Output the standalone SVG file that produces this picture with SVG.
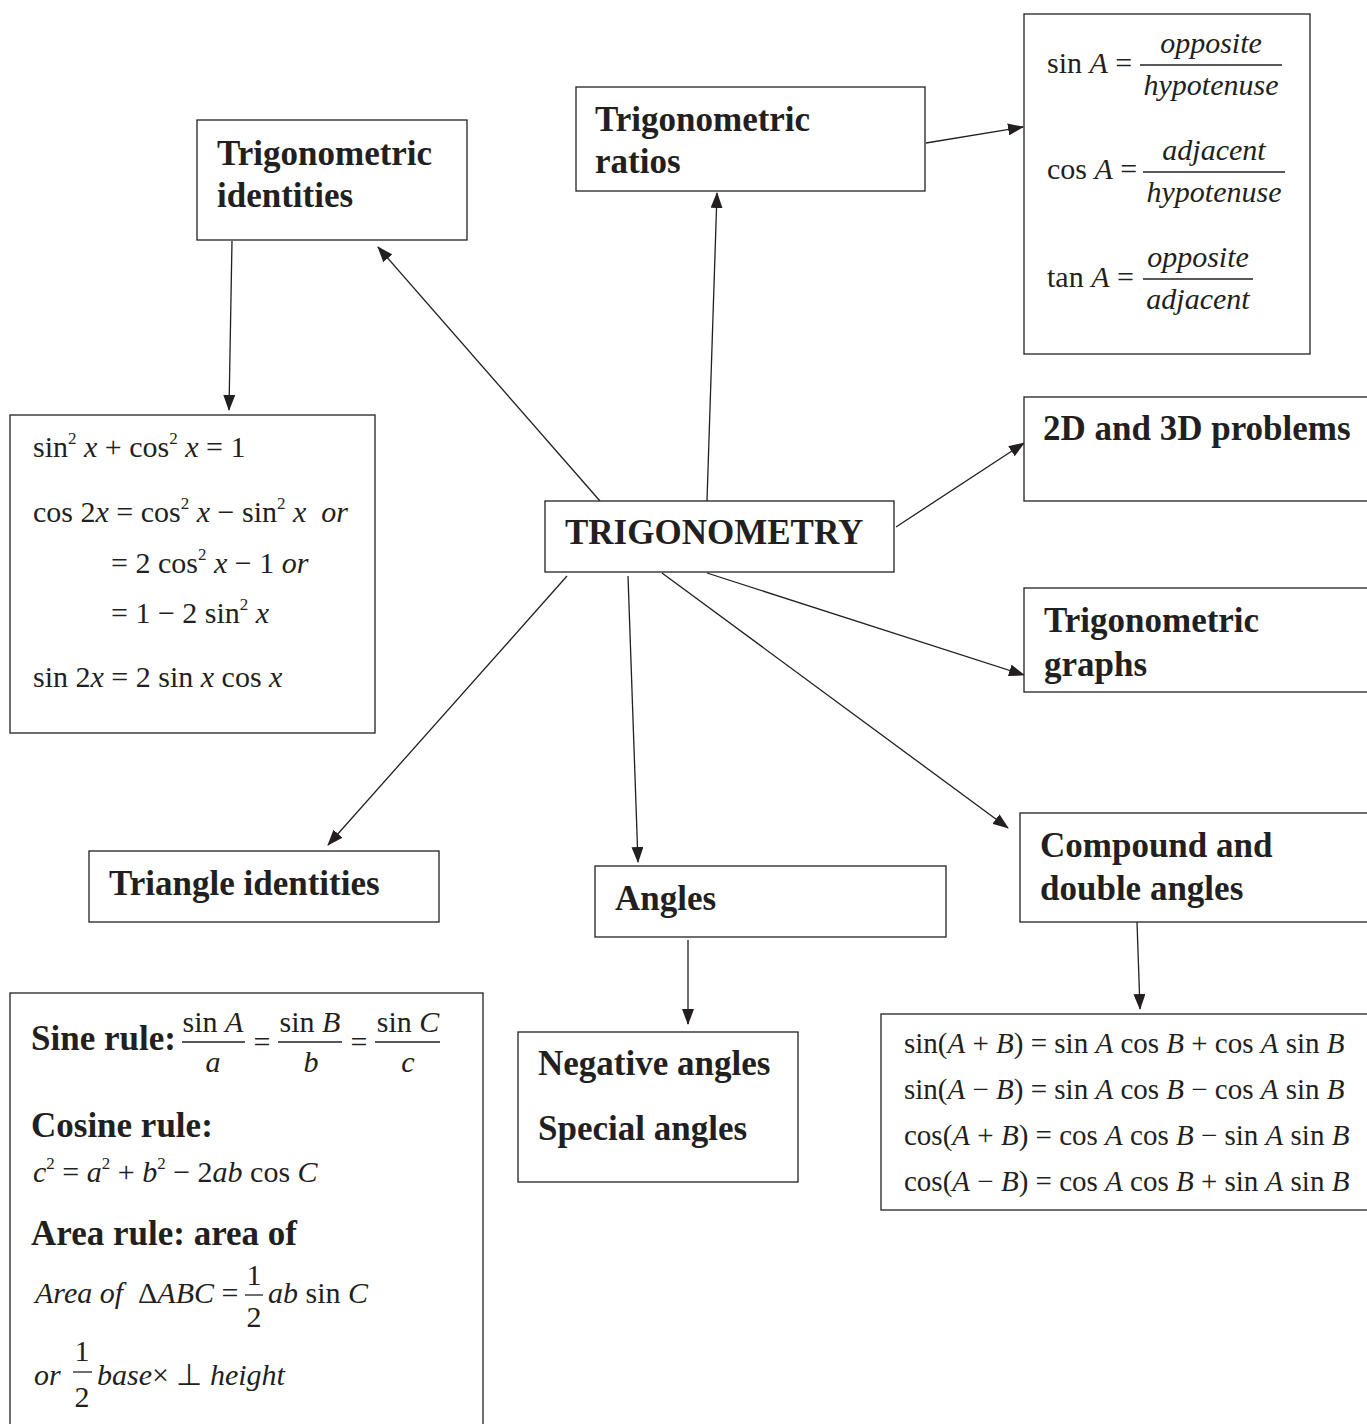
<svg xmlns="http://www.w3.org/2000/svg" width="1367" height="1424" viewBox="0 0 1367 1424">
<style>
.box{fill:#fff;stroke:#231f20;stroke-width:1.3}
.h{font-family:"Liberation Serif",serif;font-weight:bold;font-size:35px;fill:#231f20}
.m{font-family:"Liberation Serif",serif;font-size:30px;fill:#231f20}
.c{font-size:29px}
.i{font-style:italic}
.sup{font-size:17px}
.fl{stroke:#231f20;stroke-width:1.3}
.conn line{stroke:#231f20;stroke-width:1.3;marker-end:url(#ah)}
</style>
<defs>
<marker id="ah" markerWidth="16" markerHeight="12" refX="15" refY="6" orient="auto" markerUnits="userSpaceOnUse"><path d="M0,0 L16,6 L0,12 z" fill="#231f20"/></marker>
</defs>
<rect width="1367" height="1424" fill="#fff"/>

<g id="conns" class="conn">
<line x1="600" y1="501" x2="378" y2="247"/>
<line x1="707" y1="501" x2="717" y2="193"/>
<line x1="926" y1="143" x2="1023" y2="127"/>
<line x1="232" y1="241" x2="229" y2="410"/>
<line x1="232" y1="566" x2="232" y2="630"/>
<line x1="896" y1="527" x2="1024" y2="443"/>
<line x1="707" y1="573" x2="1024" y2="675"/>
<line x1="662" y1="573" x2="1008" y2="828"/>
<line x1="628" y1="576" x2="638" y2="862"/>
<line x1="567" y1="576" x2="328" y2="845"/>
<line x1="688" y1="940" x2="688" y2="1024"/>
<line x1="1137" y1="922" x2="1140" y2="1009"/>
</g>

<g id="trig-identities">
<rect class="box" x="197" y="120" width="270" height="120"/>
<text class="h" x="217" y="165">Trigonometric</text>
<text class="h" x="217" y="207">identities</text>
</g>

<g id="trig-ratios">
<rect class="box" x="576" y="87" width="349" height="104"/>
<text class="h" x="595" y="131">Trigonometric</text>
<text class="h" x="595" y="173">ratios</text>
</g>

<g id="ratios-formulas">
<rect class="box" x="1024" y="14" width="286" height="340"/>
<text class="m" x="1047" y="73">sin <tspan class="i">A</tspan> =</text>
<line class="fl" x1="1140" y1="65" x2="1282" y2="65"/>
<text class="m i" x="1211" y="53" text-anchor="middle">opposite</text>
<text class="m i" x="1211" y="95" text-anchor="middle">hypotenuse</text>
<text class="m" x="1047" y="179">cos <tspan class="i">A</tspan> =</text>
<line class="fl" x1="1143" y1="172" x2="1285" y2="172"/>
<text class="m i" x="1214" y="160" text-anchor="middle">adjacent</text>
<text class="m i" x="1214" y="202" text-anchor="middle">hypotenuse</text>
<text class="m" x="1047" y="287">tan <tspan class="i">A</tspan> =</text>
<line class="fl" x1="1143" y1="279" x2="1253" y2="279"/>
<text class="m i" x="1198" y="267" text-anchor="middle">opposite</text>
<text class="m i" x="1198" y="309" text-anchor="middle">adjacent</text>
</g>

<g id="identities-formulas">
<rect class="box" x="10" y="415" width="365" height="318"/>
<text class="m" x="33" y="457" xml:space="preserve">sin<tspan class="sup" dy="-13">2</tspan><tspan dy="13"> </tspan><tspan class="i">x</tspan> + cos<tspan class="sup" dy="-13">2</tspan><tspan dy="13"> </tspan><tspan class="i">x</tspan> = 1</text>
<text class="m" x="33" y="522" xml:space="preserve">cos 2<tspan class="i">x</tspan> = cos<tspan class="sup" dy="-13">2</tspan><tspan dy="13"> </tspan><tspan class="i">x</tspan> − sin<tspan class="sup" dy="-13">2</tspan><tspan dy="13"> </tspan><tspan class="i">x  or</tspan></text>
<text class="m" x="111" y="573" xml:space="preserve">= 2 cos<tspan class="sup" dy="-13">2</tspan><tspan dy="13"> </tspan><tspan class="i">x</tspan> − 1 <tspan class="i">or</tspan></text>
<text class="m" x="111" y="623" xml:space="preserve">= 1 − 2 sin<tspan class="sup" dy="-13">2</tspan><tspan dy="13"> </tspan><tspan class="i">x</tspan></text>
<text class="m" x="33" y="687" xml:space="preserve">sin 2<tspan class="i">x</tspan> = 2 sin <tspan class="i">x</tspan> cos <tspan class="i">x</tspan></text>
</g>

<g id="trigonometry">
<rect class="box" x="545" y="501" width="349" height="71"/>
<text class="h" x="565" y="544">TRIGONOMETRY</text>
</g>

<g id="problems-2d-3d">
<rect class="box" x="1024" y="397" width="344" height="104"/>
<text class="h" x="1043" y="440">2D and 3D problems</text>
</g>

<g id="trig-graphs">
<rect class="box" x="1024" y="588" width="344" height="104"/>
<text class="h" x="1044" y="632">Trigonometric</text>
<text class="h" x="1044" y="676">graphs</text>
</g>

<g id="compound-angles">
<rect class="box" x="1020" y="813" width="348" height="109"/>
<text class="h" x="1040" y="857">Compound and</text>
<text class="h" x="1040" y="900">double angles</text>
</g>

<g id="compound-formulas">
<rect class="box" x="881" y="1014" width="487" height="196"/>
<text class="m c" x="904" y="1053" xml:space="preserve">sin(<tspan class="i">A</tspan> + <tspan class="i">B</tspan>) = sin <tspan class="i">A</tspan> cos <tspan class="i">B</tspan> + cos <tspan class="i">A</tspan> sin <tspan class="i">B</tspan></text>
<text class="m c" x="904" y="1099" xml:space="preserve">sin(<tspan class="i">A</tspan> − <tspan class="i">B</tspan>) = sin <tspan class="i">A</tspan> cos <tspan class="i">B</tspan> − cos <tspan class="i">A</tspan> sin <tspan class="i">B</tspan></text>
<text class="m c" x="904" y="1145" xml:space="preserve">cos(<tspan class="i">A</tspan> + <tspan class="i">B</tspan>) = cos <tspan class="i">A</tspan> cos <tspan class="i">B</tspan> − sin <tspan class="i">A</tspan> sin <tspan class="i">B</tspan></text>
<text class="m c" x="904" y="1191" xml:space="preserve">cos(<tspan class="i">A</tspan> − <tspan class="i">B</tspan>) = cos <tspan class="i">A</tspan> cos <tspan class="i">B</tspan> + sin <tspan class="i">A</tspan> sin <tspan class="i">B</tspan></text>
</g>

<g id="triangle-identities">
<rect class="box" x="89" y="851" width="350" height="71"/>
<text class="h" x="109" y="895">Triangle identities</text>
</g>

<g id="angles">
<rect class="box" x="595" y="866" width="351" height="71"/>
<text class="h" x="615" y="910">Angles</text>
</g>

<g id="negative-special">
<rect class="box" x="518" y="1032" width="280" height="150"/>
<text class="h" x="538" y="1075">Negative angles</text>
<text class="h" x="538" y="1140">Special angles</text>
</g>

<g id="triangle-formulas">
<rect class="box" x="10" y="993" width="473" height="440"/>
<text class="h" x="31" y="1050">Sine rule:</text>
<line class="fl" x1="182" y1="1042" x2="245" y2="1042"/>
<text class="m" x="213" y="1032" text-anchor="middle">sin <tspan class="i">A</tspan></text>
<text class="m i" x="213" y="1072" text-anchor="middle">a</text>
<text class="m" x="262" y="1052" text-anchor="middle">=</text>
<line class="fl" x1="278" y1="1042" x2="342" y2="1042"/>
<text class="m" x="310" y="1032" text-anchor="middle">sin <tspan class="i">B</tspan></text>
<text class="m i" x="311" y="1072" text-anchor="middle">b</text>
<text class="m" x="359" y="1052" text-anchor="middle">=</text>
<line class="fl" x1="375" y1="1042" x2="440" y2="1042"/>
<text class="m" x="408" y="1032" text-anchor="middle">sin <tspan class="i">C</tspan></text>
<text class="m i" x="408" y="1072" text-anchor="middle">c</text>
<text class="h" x="31" y="1137">Cosine rule:</text>
<text class="m" x="33" y="1182" xml:space="preserve"><tspan class="i">c</tspan><tspan class="sup" dy="-13">2</tspan><tspan dy="13"> = </tspan><tspan class="i">a</tspan><tspan class="sup" dy="-13">2</tspan><tspan dy="13"> + </tspan><tspan class="i">b</tspan><tspan class="sup" dy="-13">2</tspan><tspan dy="13"> − 2</tspan><tspan class="i">ab</tspan> cos <tspan class="i">C</tspan></text>
<text class="h" x="31" y="1245">Area rule: area of</text>
<text class="m" x="35" y="1303" xml:space="preserve"><tspan class="i">Area of </tspan> Δ<tspan class="i">ABC</tspan> =</text>
<line class="fl" x1="245" y1="1295" x2="263" y2="1295"/>
<text class="m" x="254" y="1285" text-anchor="middle">1</text>
<text class="m" x="254" y="1327" text-anchor="middle">2</text>
<text class="m" x="268" y="1303" xml:space="preserve"><tspan class="i">ab</tspan> sin <tspan class="i">C</tspan></text>
<text class="m i" x="34" y="1385">or</text>
<line class="fl" x1="73" y1="1372" x2="92" y2="1372"/>
<text class="m" x="82" y="1361" text-anchor="middle">1</text>
<text class="m" x="82" y="1407" text-anchor="middle">2</text>
<text class="m" x="97" y="1385" xml:space="preserve"><tspan class="i">base</tspan>× ⊥ <tspan class="i">height</tspan></text>
</g>
</svg>
